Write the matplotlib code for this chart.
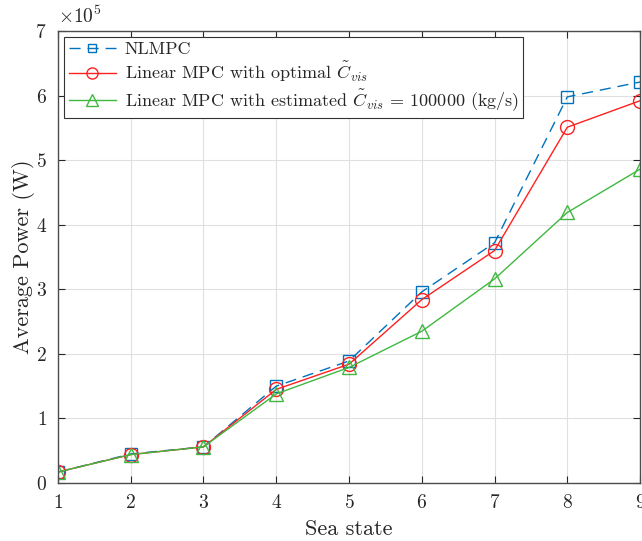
import numpy as np
import matplotlib.pyplot as plt

plt.rcParams['font.family'] = 'cmr10'
plt.rcParams['mathtext.fontset'] = 'cm'
plt.rcParams['axes.unicode_minus'] = False
plt.rcParams['axes.formatter.use_mathtext'] = True

# data (x 1e5 W)
sea_state = [1, 2, 3, 4, 5, 6, 7, 8, 9]
nlmpc = [0.17, 0.45, 0.56, 1.50, 1.89, 2.96, 3.72, 5.98, 6.21]
lin_opt = [0.17, 0.44, 0.56, 1.45, 1.84, 2.84, 3.60, 5.51, 5.92]
lin_est = [0.17, 0.44, 0.56, 1.38, 1.79, 2.35, 3.16, 4.19, 4.86]

txt = '#262626'
fig = plt.figure(figsize=(6.42, 5.41), dpi=100)
ax = fig.add_axes([0.0903, 0.1072, 0.9067, 0.8355])

ax.plot(sea_state, nlmpc, color='#0072BD', ls=(0, (8, 5)), lw=1, marker='s',
        ms=8, mfc='none', mew=1, label='NLMPC')
ax.plot(sea_state, lin_opt, color='#FF2020', lw=1, marker='o', ms=10, mfc='none',
        mew=1, label=r'Linear MPC with optimal $\tilde{C}_{vis}$')
ax.plot(sea_state, lin_est, color='#40B840', lw=1, marker='^', ms=10, mfc='none',
        mew=1, label=r'Linear MPC with estimated $\tilde{C}_{vis}$ = 100000 (kg/s)')

ax.set_xlim(1, 9)
ax.set_ylim(0, 7)
ax.set_xticks(range(1, 10))
ax.set_yticks(range(0, 8))
ax.tick_params(direction='in', top=True, right=True, labelsize=14, colors=txt,
               length=5, width=0.8, pad=8)
ax.grid(True, color='#E0E0E0', lw=0.8)
ax.set_axisbelow(True)
for s in ax.spines.values():
    s.set_color('#4D4D4D')
    s.set_linewidth(1)

ax.set_xlabel('Sea state', fontsize=16, color=txt, labelpad=5)
ax.set_ylabel('Average Power (W)', fontsize=16, color=txt, labelpad=0)
ax.text(0.0, 1.008, r'$\times 10^5$', transform=ax.transAxes, fontsize=14,
        color=txt, ha='left', va='bottom')

leg = ax.legend(loc='upper left', fontsize=13, fancybox=False, framealpha=1,
                edgecolor='#333333', borderaxespad=0.35, handlelength=2.6,
                labelspacing=0.15, borderpad=0.25, handletextpad=0.5,
                markerscale=0.8)
leg.get_frame().set_linewidth(0.8)
for t in leg.get_texts():
    t.set_color(txt)

plt.savefig('out.png', dpi=100)
